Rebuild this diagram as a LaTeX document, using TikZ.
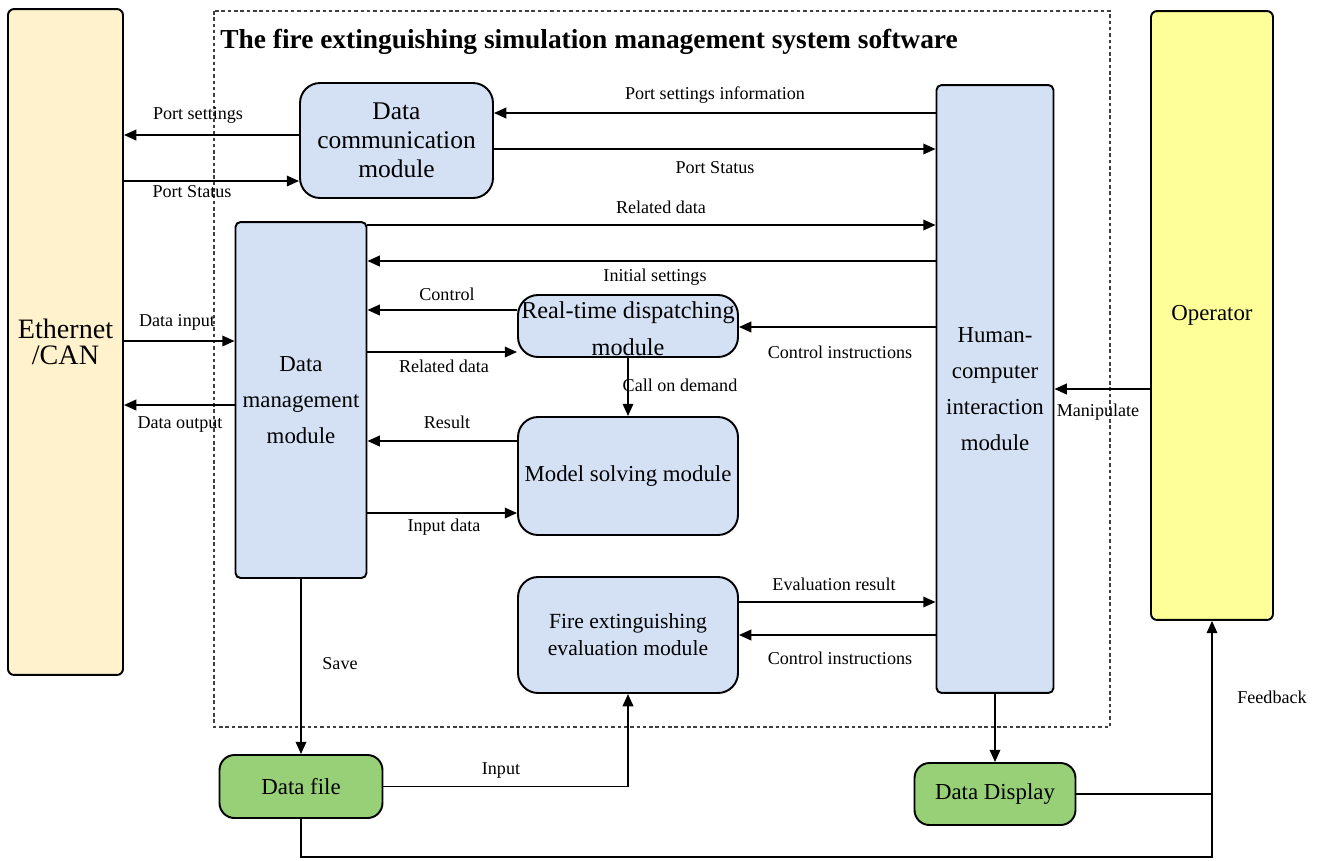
\documentclass[tikz,border=0pt]{standalone}
\usepackage{fontspec}
\setmainfont{Liberation Serif}
\usetikzlibrary{arrows.meta}
\definecolor{modblue}{HTML}{D4E1F5}
\definecolor{ethyel}{HTML}{FFF2CC}
\definecolor{opyel}{HTML}{FFFF99}
\definecolor{filegreen}{HTML}{97D077}
\tikzset{
  modbox/.style={draw, line width=1.1pt, fill=modblue, align=center, inner sep=0pt},
  arr/.style={line width=1.1pt, -{Triangle[length=7pt,width=6pt]}},
  plainline/.style={line width=1.1pt},
  lbl/.style={font=\fontsize{10.3}{12}\selectfont, inner sep=0pt},
}
\begin{document}
\begin{tikzpicture}[x=0.02cm,y=-0.02cm]
\useasboundingbox (0,0) rectangle (1322,860);
% boundary
\draw[line width=0.6pt, dash pattern=on 2pt off 1.6pt, black!75] (214,11) rectangle (1110,727);
\node[anchor=west, inner sep=0pt, font=\bfseries\fontsize{15.6}{18}\selectfont] (title) at (220,42) {The fire extinguishing simulation management system software};
% boxes
\node[draw, line width=1.1pt, fill=ethyel, rounded corners=0.12cm, minimum width=2.3cm, minimum height=13.32cm, align=center, inner sep=0pt, font=\fontsize{16}{15}\selectfont] (eth) at (65.5,342) {Ethernet\\/CAN};
\node[draw, line width=1.1pt, fill=opyel, rounded corners=0.12cm, minimum width=2.44cm, minimum height=12.18cm, inner sep=0pt, font=\fontsize{13}{15}\selectfont] (op) at (1212,315.5) {Operator};
\node[modbox, rounded corners=0.4cm, minimum width=3.86cm, minimum height=2.3cm, font=\fontsize{14.5}{16.5}\selectfont] (dcm) at (396.5,140.5) {Data\\communication\\module};
\node[modbox, rounded corners=0.1cm, minimum width=2.34cm, minimum height=12.16cm, font=\fontsize{13}{20.5}\selectfont] (hci) at (995,389) {Human-\\computer\\interaction\\module};
\node[modbox, rounded corners=0.1cm, minimum width=2.62cm, minimum height=7.12cm, font=\fontsize{13}{20.5}\selectfont] (dmm) at (301,400) {Data\\management\\module};
\node[modbox, rounded corners=0.4cm, minimum width=4.4cm, minimum height=1.24cm, font=\fontsize{13.8}{21}\selectfont] (rtd) at (628,326) {\raisebox{-1.7pt}[\height][\depth]{\parbox{4.4cm}{\centering Real-time dispatching\\module}}};
\node[modbox, rounded corners=0.4cm, minimum width=4.4cm, minimum height=2.36cm, font=\fontsize{13}{15}\selectfont] (msm) at (628,476) {Model solving module};
\node[modbox, rounded corners=0.4cm, minimum width=4.4cm, minimum height=2.32cm, font=\fontsize{12.3}{15.4}\selectfont] (fee) at (628,635) {Fire extinguishing\\evaluation module};
\node[modbox, fill=filegreen, rounded corners=0.3cm, minimum width=3.26cm, minimum height=1.26cm, font=\fontsize{13}{15}\selectfont] (df) at (301,786.5) {Data file};
\node[modbox, fill=filegreen, rounded corners=0.3cm, minimum width=3.22cm, minimum height=1.24cm, font=\fontsize{13}{15}\selectfont] (dd) at (995,794) {Data Display};
% connectors
\draw[arr] (dcm.west |- 0,135) -- (eth.east |- 0,135);
\draw[arr] (eth.east |- 0,181) -- (dcm.west |- 0,181);
\draw[arr] (hci.west |- 0,113) -- (dcm.east |- 0,113);
\draw[arr] (dcm.east |- 0,149) -- (hci.west |- 0,149);
\draw[arr] (dmm.east |- 0,225) -- (hci.west |- 0,225);
\draw[arr] (hci.west |- 0,261) -- (dmm.east |- 0,261);
\draw[arr] (rtd.west |- 0,310) -- (dmm.east |- 0,310);
\draw[arr] (dmm.east |- 0,352) -- (rtd.west |- 0,352);
\draw[arr] (hci.west |- 0,327) -- (rtd.east |- 0,327);
\draw[arr] (rtd.south) -- (msm.north);
\draw[arr] (msm.west |- 0,441) -- (dmm.east |- 0,441);
\draw[arr] (dmm.east |- 0,513) -- (msm.west |- 0,513);
\draw[arr] (eth.east |- 0,341) -- (dmm.west |- 0,341);
\draw[arr] (dmm.west |- 0,405) -- (eth.east |- 0,405);
\draw[arr] (fee.east |- 0,602) -- (hci.west |- 0,602);
\draw[arr] (hci.west |- 0,635) -- (fee.east |- 0,635);
\draw[arr] (dmm.south) -- (df.north);
\draw[arr] (df.east) -- (fee.south |- df.east) -- (fee.south);
\draw[arr] (hci.south) -- (dd.north);
\draw[arr] (op.west |- hci.east) -- (hci.east);
\coordinate (fbcorner) at (1212,857);
\coordinate (fbleft) at (301,857);
\draw[arr] (df.south) -- (fbleft) -- (fbcorner) -- (op.south);
\draw[plainline] (dd.east) -- (op.south |- dd.east);
% labels
\node[lbl] (l1) at (198,115) {Port settings};
\node[lbl] (l2) at (192,192) {Port Status};
\node[lbl] (l3) at (715,95) {Port settings information};
\node[lbl] (l4) at (715,168) {Port Status};
\node[lbl] (l5) at (661,207) {Related data};
\node[lbl] (l6) at (655,277) {Initial settings};
\node[lbl] (l7) at (447,294) {Control};
\node[lbl] (l8) at (444,366) {Related data};
\node[lbl] (l9) at (840,352) {Control instructions};
\node[lbl] (l10) at (680,385) {Call on demand};
\node[lbl] (l11) at (447,422) {Result};
\node[lbl] (l12) at (444,527) {Input data};
\node[lbl] (l13) at (177,322) {Data input};
\node[lbl] (l14) at (180,424) {Data output};
\node[lbl] (l15) at (834,584) {Evaluation result};
\node[lbl] (l16) at (840,658) {Control instructions};
\node[lbl] (l17) at (340,664) {Save};
\node[lbl] (l18) at (501,770) {Input};
\node[lbl] (l19) at (1098,412) {Manipulate};
\node[lbl] (l20) at (1272,697) {Feedback};
\end{tikzpicture}
\end{document}
